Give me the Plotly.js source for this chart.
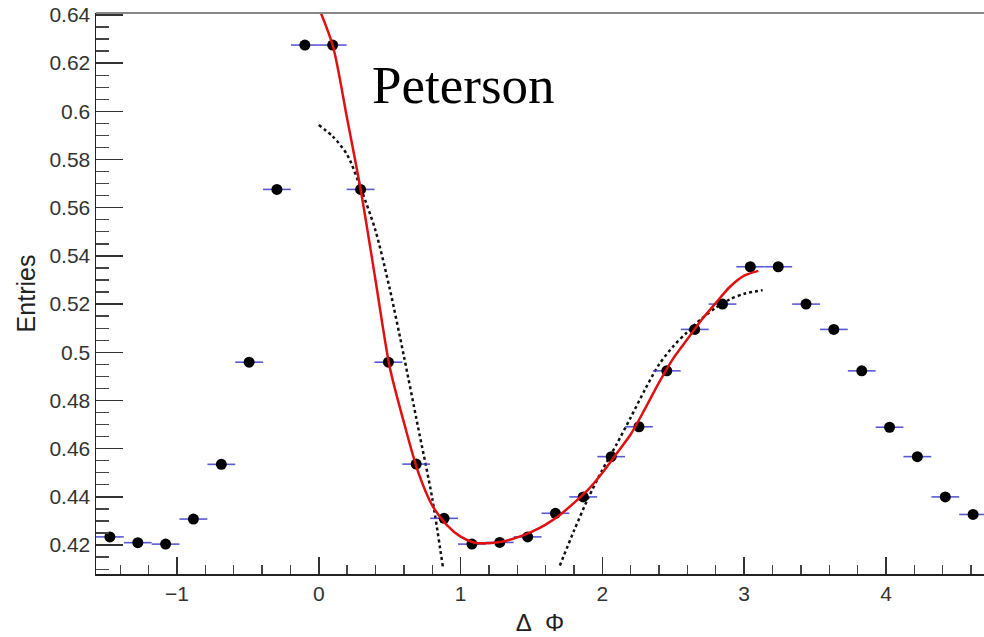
<!DOCTYPE html>
<html>
<head>
<meta charset="utf-8">
<script src="https://cdn.plot.ly/plotly-3.0.1.min.js"></script>
<style>html,body{margin:0;padding:0;background:#fff;}#chart{width:984px;height:637px;}</style>
</head>
<body>
<div id="chart"></div>
<script>
// Histogram bin centres (ΔΦ) and entries
const binCenters = [-1.473, -1.276, -1.080, -0.884, -0.687, -0.491, -0.295, -0.098,
                    0.098, 0.295, 0.491, 0.687, 0.884, 1.080, 1.276, 1.473,
                    1.669, 1.865, 2.062, 2.258, 2.454, 2.651, 2.847, 3.043,
                    3.240, 3.436, 3.632, 3.829, 4.025, 4.221, 4.418, 4.614];
const entries = [0.4234, 0.4210, 0.4204, 0.4308, 0.4535, 0.4959, 0.5676, 0.6275,
                 0.6275, 0.5676, 0.4959, 0.4536, 0.4311, 0.4204, 0.4211, 0.4234,
                 0.4332, 0.4400, 0.4567, 0.4691, 0.4923, 0.5095, 0.5200, 0.5355,
                 0.5355, 0.5200, 0.5095, 0.4923, 0.4689, 0.4567, 0.4400, 0.4327];
const binHalfWidth = [0.098,0.098,0.098,0.098,0.098,0.098,0.098,0.098,
                      0.098,0.098,0.098,0.098,0.098,0.098,0.098,0.098,
                      0.098,0.098,0.098,0.098,0.098,0.098,0.098,0.098,
                      0.098,0.098,0.098,0.098,0.098,0.098,0.098,0.098];

// Peterson fit (red solid)
const fitX = [0.0, 0.1, 0.2, 0.3, 0.4, 0.5, 0.6, 0.7, 0.8, 0.9, 1.0,
              1.1, 1.2, 1.3, 1.4, 1.5, 1.6, 1.7, 1.8, 1.9, 2.0,
              2.1, 2.2, 2.3, 2.4, 2.5, 2.6, 2.7, 2.8, 2.9, 3.0, 3.1];
const fitY = [0.643, 0.627, 0.597, 0.566, 0.530, 0.494, 0.471, 0.4505, 0.4365, 0.4285, 0.4235,
              0.4210, 0.4208, 0.4215, 0.4232, 0.4255, 0.4285, 0.4325, 0.4375, 0.4430, 0.4500,
              0.4580, 0.4660, 0.4765, 0.4875, 0.4975, 0.5055, 0.5135, 0.5205, 0.5272, 0.5318, 0.5338];

// Dotted components
const dot1X = [0.0, 0.1, 0.2, 0.3, 0.4, 0.5, 0.6, 0.7, 0.8, 0.875];
const dot1Y = [0.5943, 0.5895, 0.5820, 0.5675, 0.5505, 0.5265, 0.4985, 0.4690, 0.4395, 0.4110];
const dot2X = [1.7, 1.8, 1.9, 2.0, 2.1, 2.2, 2.3, 2.4, 2.5, 2.6, 2.7, 2.8, 2.9, 3.0, 3.13];
const dot2Y = [0.4115, 0.4260, 0.4395, 0.4512, 0.4618, 0.4730, 0.4845, 0.4950, 0.5025, 0.5085,
               0.5140, 0.5185, 0.5220, 0.5243, 0.5258];

const yTickVals = [0.42, 0.44, 0.46, 0.48, 0.5, 0.52, 0.54, 0.56, 0.58, 0.6, 0.62, 0.64];

const traces = [
  {x: dot1X, y: dot1Y, mode: 'lines', line: {color: '#111', width: 2.5, dash: 'dot', shape: 'spline', smoothing: 0.8}, hoverinfo: 'skip'},
  {x: dot2X, y: dot2Y, mode: 'lines', line: {color: '#111', width: 2.5, dash: 'dot', shape: 'spline', smoothing: 0.8}, hoverinfo: 'skip'},
  {x: binCenters, y: entries, mode: 'markers',
   marker: {color: '#000', size: 11},
   error_x: {type: 'data', array: binHalfWidth, visible: true, color: 'rgba(60,60,205,0.85)', thickness: 1.6, width: 0}},
  {x: fitX, y: fitY, mode: 'lines', line: {color: '#e01010', width: 2.5, shape: 'spline', smoothing: 0.8}, hoverinfo: 'skip'}
];

const layout = {
  width: 984, height: 637,
  margin: {l: 96, r: 0, t: 13, b: 63},
  paper_bgcolor: '#fff', plot_bgcolor: '#fff',
  showlegend: false,
  font: {family: '"Liberation Sans", Arial, sans-serif', color: '#333'},
  xaxis: {
    range: [-1.5708, 4.691], showgrid: false, zeroline: false,
    showline: true, linecolor: '#222', linewidth: 1.5,
    ticks: 'inside', ticklen: 17, tickwidth: 1.5, tickcolor: '#333',
    tick0: 0, dtick: 1,
    minor: {ticks: 'inside', ticklen: 9, tickwidth: 1.3, tickcolor: '#444', dtick: 0.2, showgrid: false},
    tickfont: {size: 21, color: '#333'},
    title: {text: 'Δ\u00a0\u00a0Φ', font: {size: 24, color: '#222'}, standoff: 10}
  },
  yaxis: {
    range: [0.408, 0.6408], showgrid: false, zeroline: false,
    showline: true, linecolor: '#222', linewidth: 1.5,
    ticks: 'inside', ticklen: 27, tickwidth: 1.5, tickcolor: '#333',
    tickvals: yTickVals,
    minor: {ticks: 'inside', ticklen: 13, tickwidth: 1.3, tickcolor: '#444', dtick: 0.005, showgrid: false},
    tickfont: {size: 21, color: '#333'},
    title: {text: 'Entries', font: {size: 25, color: '#222'}, standoff: 6}
  },
  shapes: [
    {type: 'line', xref: 'paper', yref: 'paper', x0: 0, x1: 1, y0: 1, y1: 1, line: {color: '#888', width: 2}}
  ],
  annotations: [
    {text: 'Peterson', xref: 'paper', yref: 'paper', x: 0.309, y: 0.872, xanchor: 'left', yanchor: 'middle',
     showarrow: false, font: {family: '"Liberation Serif", "DejaVu Serif", serif', size: 53, color: '#000'}}
  ]
};

Plotly.newPlot('chart', traces, layout, {displayModeBar: false, staticPlot: true});
</script>
</body>
</html>
